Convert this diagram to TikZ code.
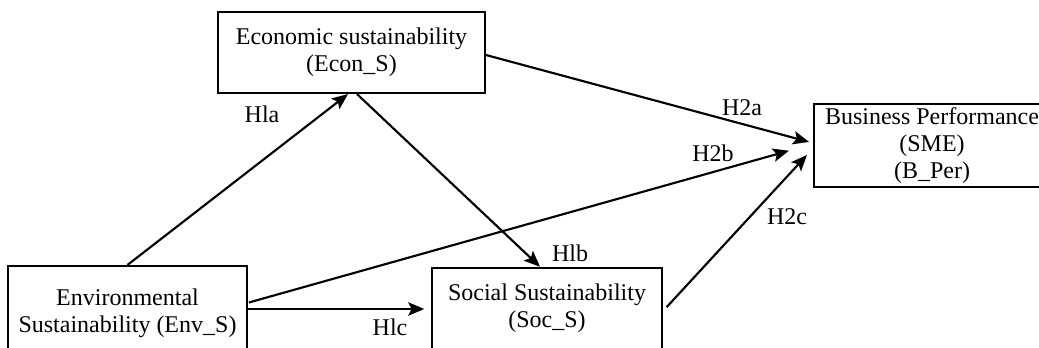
\documentclass[tikz,border=0pt]{standalone}
\usepackage{fontspec}
\setmainfont{Liberation Serif}
\usetikzlibrary{arrows.meta,calc}

\tikzset{every picture/.style={line width=0.75pt}}
\tikzset{
	varbox/.style={draw, line width=1.6pt, align=center, inner sep=0pt, font=\fontsize{18}{20}\selectfont},
	hlabel/.style={inner sep=0pt, font=\fontsize{18}{20}\selectfont},
	path/.style={draw, line width=1.6pt, -{Stealth[length=12pt,width=10pt,inset=2.5pt]}}
}

\begin{document}
\begin{tikzpicture}[x=0.75pt,y=0.75pt,yscale=-1,xscale=1]
	\useasboundingbox (0,0) rectangle (1039,348);
	\clip (0,0) rectangle (1039,348);

	%Shape: Rectangle [econ]
	\node [varbox, minimum width=200pt, minimum height=60.75pt] (econ) at (351.5,52.5) {Economic sustainability\\(Econ\_S)};
	%Shape: Rectangle [bper]
	\node [varbox, minimum width=177pt, minimum height=62pt] (bper) at (932,145.5) {Business Performance\\(SME)\\(B\_Per)};
	%Shape: Rectangle [env]
	\node [varbox, minimum width=179pt, minimum height=70.5pt] (env) at (127.5,313) {Environmental\\Sustainability (Env\_S)};
	%Shape: Rectangle [soc]
	\node [varbox, minimum width=172.5pt, minimum height=61pt] (soc) at (547,308.5) {Social Sustainability\\(Soc\_S)};

	%Straight Lines
	\draw [path] (env.north) -- ($(econ.south)+(-3.5,0)$);
	\draw [path] ($(econ.south)+(5.5,0)$) -- ($(soc.north)+(-7,0)$);
	\draw [path, shorten >=3pt] ($(econ.east)+(0,2.5)$) -- ($(bper.west)+(0,-2.5)$);
	\draw [path, shorten >=18.7pt] ($(env.east)+(1,-10.5)$) -- ($(bper.west)+(0,-1.5)$);
	\draw [path, shorten >=5pt] ($(env.east)+(0,-4)$) -- ($(soc.west)+(0,0.5)$);
	\draw [path, shorten <=4pt, shorten >=6.6pt] ($(soc.east)+(0,2.5)$) -- ($(bper.west)+(0,3)$);

	% Text Node
	\node [hlabel] (hla) at (262,114) {Hla};
	% Text Node
	\node [hlabel] (hlb) at (570,253) {Hlb};
	% Text Node
	\node [hlabel] (hlc) at (390,327) {Hlc};
	% Text Node
	\node [hlabel] (htwoa) at (742,108) {H2a};
	% Text Node
	\node [hlabel] (htwob) at (713,153) {H2b};
	% Text Node
	\node [hlabel] (htwoc) at (787,217) {H2c};

\end{tikzpicture}
\end{document}
